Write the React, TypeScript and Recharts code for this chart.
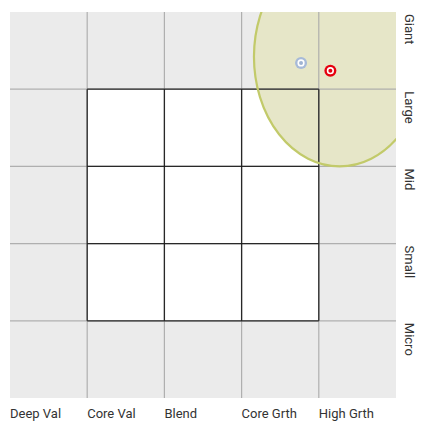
import React from 'react';
import {
  ScatterChart,
  Scatter,
  XAxis,
  YAxis,
  ReferenceArea,
} from 'recharts';

const styleLabels = ['Deep Val', 'Core Val', 'Blend', 'Core Grth', 'High Grth'];
const sizeLabels = ['Micro', 'Small', 'Mid', 'Large', 'Giant'];
const gridLines = [1, 2, 3, 4];

// holdings centroid and its index
const fundPoint = [{ x: 4.15, y: 4.24 }];
const indexPoint = [{ x: 3.77, y: 4.34 }];

// ownership zone: centre and radii in style-box units
const zoneCenter = { x: 4.27, y: 4.42 };
const zoneRadius = { x: 1.11, y: 1.42 };

const FONT = "'Liberation Sans Narrow', 'Roboto', sans-serif";

const XTick = (props: any) => {
  const { x, y, payload } = props;
  return (
    <text x={x} y={y} dy="0.71em" textAnchor="start" fontSize={13} fill="#333" fontFamily={FONT}>
      {styleLabels[payload.value]}
    </text>
  );
};

const YTick = (props: any) => {
  const { x, y, payload } = props;
  const ty = y + 2;
  return (
    <text
      x={x}
      y={ty}
      textAnchor="start"
      fontSize={13}
      fill="#333"
      fontFamily={FONT}
      transform={`rotate(90 ${x} ${ty})`}
    >
      {sizeLabels[payload.value - 1]}
    </text>
  );
};

// zero-width / zero-height areas drawn as grid lines, so they stack with the zone
const GridLine = ({ color, w }: { color: string; w: number }) => (props: any) => {
  const { x, y, width, height } = props;
  return (
    <line
      x1={x}
      y1={y}
      x2={x + width}
      y2={y + height}
      stroke={color}
      strokeWidth={w}
      strokeOpacity={0.9}
    />
  );
};

const ZoneFill = (props: any) => {
  const { x, y, width, height, clipPath } = props;
  return (
    <ellipse
      cx={x + width / 2}
      cy={y + height / 2}
      rx={width / 2}
      ry={height / 2}
      fill="#e6e6c8"
      stroke="none"
      clipPath={clipPath}
    />
  );
};

const ZoneEdge = (props: any) => {
  const { x, y, width, height, clipPath } = props;
  return (
    <ellipse
      cx={x + width / 2}
      cy={y + height / 2}
      rx={width / 2}
      ry={height / 2}
      fill="none"
      stroke="#c2ca6a"
      strokeWidth={2.2}
      clipPath={clipPath}
    />
  );
};

const target = (outer: string, inner: string) => (props: any) => {
  const { cx, cy } = props;
  return (
    <g>
      <circle cx={cx} cy={cy} r={6} fill={outer} />
      <circle cx={cx} cy={cy} r={3.6} fill="#fff" />
      <circle cx={cx} cy={cy} r={2} fill={inner} />
    </g>
  );
};

const greyLine = GridLine({ color: '#a8a8a8', w: 1.2 });
const blackLine = GridLine({ color: '#1a1a1a', w: 1.3 });

export default function App() {
  const zone = {
    x1: zoneCenter.x - zoneRadius.x,
    x2: zoneCenter.x + zoneRadius.x,
    y1: zoneCenter.y - zoneRadius.y,
    y2: zoneCenter.y + zoneRadius.y,
  };
  return (
    <div style={{ position: 'absolute', left: 0, top: 0 }}>
      <ScatterChart width={421} height={424} margin={{ top: 12, right: 0, bottom: 0, left: 10 }}>
        <XAxis
          type="number"
          dataKey="x"
          domain={[0, 5]}
          ticks={[0, 1, 2, 3, 4]}
          axisLine={false}
          tickLine={false}
          tickSize={0}
          tickMargin={11}
          height={26}
          tick={<XTick />}
          interval={0}
        />
        <YAxis
          type="number"
          dataKey="y"
          orientation="right"
          domain={[0, 5]}
          ticks={[5, 4, 3, 2, 1]}
          axisLine={false}
          tickLine={false}
          tickSize={0}
          tickMargin={9}
          width={25}
          tick={<YTick />}
          interval={0}
        />
        <ReferenceArea x1={0} x2={5} y1={0} y2={5} fill="#ebebeb" fillOpacity={1} stroke="none" />
        <ReferenceArea x1={1} x2={4} y1={1} y2={4} fill="#fff" fillOpacity={1} stroke="none" />
        <ReferenceArea {...zone} ifOverflow="hidden" shape={<ZoneFill />} />
        {gridLines.map((v) => (
          <ReferenceArea key={'vx' + v} x1={v} x2={v} y1={0} y2={5} shape={greyLine} />
        ))}
        {gridLines.map((v) => (
          <ReferenceArea key={'hy' + v} x1={0} x2={5} y1={v} y2={v} shape={greyLine} />
        ))}
        {gridLines.map((v) => (
          <ReferenceArea key={'bx' + v} x1={v} x2={v} y1={1} y2={4} shape={blackLine} />
        ))}
        {gridLines.map((v) => (
          <ReferenceArea key={'by' + v} x1={1} x2={4} y1={v} y2={v} shape={blackLine} />
        ))}
        <ReferenceArea {...zone} ifOverflow="hidden" shape={<ZoneEdge />} />
        <Scatter data={indexPoint} shape={target('#a7bad8', '#9fb3d3')} isAnimationActive={false} />
        <Scatter data={fundPoint} shape={target('#e6000f', '#e6000f')} isAnimationActive={false} />
      </ScatterChart>
    </div>
  );
}
